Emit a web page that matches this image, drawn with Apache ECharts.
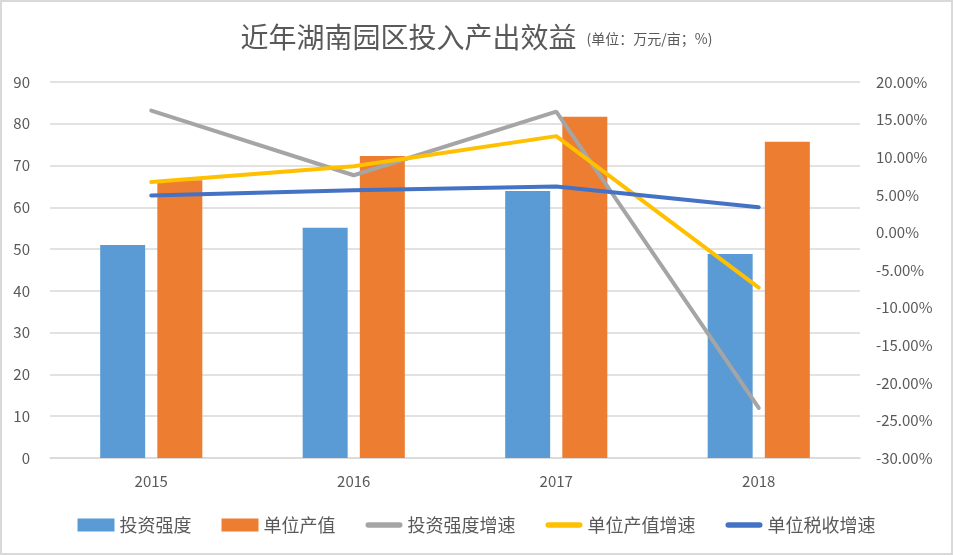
<!DOCTYPE html>
<html>
<head>
<meta charset="utf-8">
<script src="https://cdn.jsdelivr.net/npm/echarts@6/dist/echarts.min.js"></script>
<style>
  html, body { margin: 0; padding: 0; background: #fff; }
  #chart { width: 953px; height: 555px; box-sizing: border-box; border: 2px solid #d9d9d9; }
</style>
</head>
<body>
<div id="chart"></div>
<script>
// 年份
const years = ['2015', '2016', '2017', '2018'];
// 左轴：万元/亩
const touziQiangdu = [51.0, 55.1, 63.9, 48.8];
const danweiChanzhi = [66.5, 72.3, 81.7, 75.7];
// 右轴：增速 %
const touziZengsu = [16.2, 7.6, 16.05, -23.35];
const chanzhiZengsu = [6.7, 8.8, 12.8, -7.35];
const shuishouZengsu = [4.9, 5.6, 6.1, 3.35];

const chart = echarts.init(document.getElementById('chart'));
const font = '"Microsoft YaHei", "Noto Sans CJK SC", sans-serif';
const labelColor = '#595959';
// 图例里的线条图标（粗线、圆头）
const lineIcon = 'path://M3,0 L37,0 A3,3 0 0 1 37,6 L3,6 A3,3 0 0 1 3,0 Z';

const option = {
    animation: false,
    title: {
        text: '{a|近年湖南园区投入产出效益}{b|(单位：万元/亩；%)}',
        left: 'center',
        top: 16,
        textStyle: {
            rich: {
                a: { fontSize: 28, fontWeight: 'normal', color: labelColor, fontFamily: font },
                b: { fontSize: 14, fontWeight: 'normal', color: labelColor, fontFamily: font, padding: [4, 0, 0, 10] }
            }
        }
    },
    legend: {
        bottom: 14,
        left: 'center',
        itemGap: 30,
        itemWidth: 37,
        itemHeight: 13,
        symbolKeepAspect: true,
        textStyle: { fontSize: 18, color: labelColor, fontFamily: font },
        data: [
            { name: '投资强度', icon: 'rect' },
            { name: '单位产值', icon: 'rect' },
            { name: '投资强度增速', icon: lineIcon },
            { name: '单位产值增速', icon: lineIcon },
            { name: '单位税收增速', icon: lineIcon }
        ]
    },
    grid: { left: 48, right: 91, top: 80, bottom: 95 },
    xAxis: {
        type: 'category',
        data: years,
        axisLine: { lineStyle: { color: '#d9d9d9', width: 1.5 } },
        axisTick: { show: false },
        axisLabel: { fontSize: 15, color: labelColor, margin: 16, fontFamily: font }
    },
    yAxis: [
        {
            type: 'value',
            min: 0, max: 90, interval: 10,
            axisLine: { show: false },
            axisTick: { show: false },
            axisLabel: { fontSize: 15, color: labelColor, margin: 20, fontFamily: font },
            splitLine: { lineStyle: { color: '#d9d9d9', width: 1.5 } }
        },
        {
            type: 'value',
            min: -30, max: 20, interval: 5,
            axisLine: { show: false },
            axisTick: { show: false },
            splitLine: { show: false },
            axisLabel: {
                fontSize: 15, color: labelColor, margin: 16, fontFamily: font,
                formatter: v => v.toFixed(2) + '%'
            }
        }
    ],
    series: [
        {
            name: '投资强度', type: 'bar', data: touziQiangdu,
            barWidth: 45, barGap: '27%',
            itemStyle: { color: '#5B9BD5' }
        },
        {
            name: '单位产值', type: 'bar', data: danweiChanzhi,
            barWidth: 45,
            itemStyle: { color: '#ED7D31' }
        },
        {
            name: '投资强度增速', type: 'line', yAxisIndex: 1, data: touziZengsu,
            symbol: 'none', lineStyle: { color: '#A5A5A5', width: 4, cap: 'round' }, itemStyle: { color: '#A5A5A5' }
        },
        {
            name: '单位产值增速', type: 'line', yAxisIndex: 1, data: chanzhiZengsu,
            symbol: 'none', lineStyle: { color: '#FFC000', width: 4, cap: 'round' }, itemStyle: { color: '#FFC000' }
        },
        {
            name: '单位税收增速', type: 'line', yAxisIndex: 1, data: shuishouZengsu,
            symbol: 'none', lineStyle: { color: '#4472C4', width: 4, cap: 'round' }, itemStyle: { color: '#4472C4' }
        }
    ]
};
chart.setOption(option);
</script>
</body>
</html>
